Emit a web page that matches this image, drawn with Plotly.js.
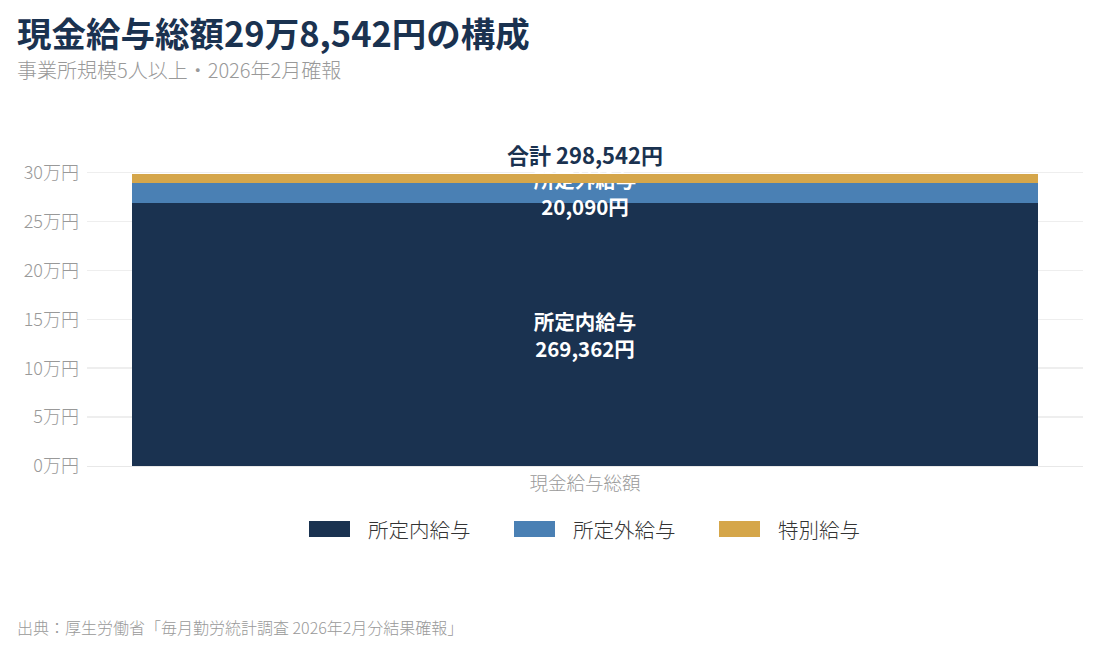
<!DOCTYPE html>
<html>
<head>
<meta charset="utf-8">
<script src="https://cdn.plot.ly/plotly-3.0.1.min.js"></script>
<style>
  body { margin: 0; background: #fff; }
  #graph { width: 1098px; height: 649px; }
</style>
</head>
<body>
<div id="graph"></div>
<script>
const categories = ['現金給与総額']
const seriesNames = ['所定内給与', '所定外給与', '特別給与']
const scheduled = [269362]
const overtime = [20090]
const special = [9090]
const tickVals = [0, 50000, 100000, 150000, 200000, 250000, 300000]
const tickText = ['0万円', '5万円', '10万円', '15万円', '20万円', '25万円', '30万円']

const font = 'Noto Sans CJK JP, Noto Sans, sans-serif'
const colors = ['#1a3250', '#4a80b4', '#d5a64a']
const navy = '#1a3250'
const grey = '#999999'

// plot area in pixels: x 87..1083, y 158..466
const plotL = 87, plotW = 996, plotB = 466, plotH = 308
const px = x => (x - plotL) / plotW
const py = y => (plotB - y) / plotH

function yen(v) {
    return v.toLocaleString('en-US') + '円'
}

const series = [scheduled, overtime, special]
const total = scheduled[0] + overtime[0] + special[0]

// bar text is drawn with each trace, so the gold segment covers the top of the blue label
let data = series.map((values, i) => ({
    type: 'bar',
    name: seriesNames[i],
    x: categories,
    y: values,
    width: 0.91,
    marker: { color: colors[i] },
    text: values.map(v => i === 2 ? '' : seriesNames[i] + '<br>' + yen(v)),
    textposition: 'inside',
    insidetextanchor: 'middle',
    constraintext: 'none',
    textangle: 0,
    textfont: { family: font, size: 20.5, color: '#ffffff', weight: 600 },
    hoverinfo: 'none',
    showlegend: false
}))

let annotations = []

annotations.push({
    xref: 'x', yref: 'y', x: categories[0], y: total,
    yanchor: 'bottom', yshift: 2, showarrow: false,
    text: '合計 ' + yen(total),
    font: { family: font, size: 22, color: navy, weight: 700 }
})

// title, subtitle, source
annotations.push({
    xref: 'paper', yref: 'paper', x: px(15), y: py(32),
    xanchor: 'left', yanchor: 'middle', showarrow: false,
    text: '現金給与総額29万8,542円の構成',
    font: { family: font, size: 34.5, color: navy, weight: 700 }
})
annotations.push({
    xref: 'paper', yref: 'paper', x: px(15), y: py(69),
    xanchor: 'left', yanchor: 'middle', showarrow: false,
    text: '事業所規模5人以上・2026年2月確報',
    font: { family: font, size: 20, color: grey, weight: 300 }
})
annotations.push({
    xref: 'paper', yref: 'paper', x: px(15), y: py(627),
    xanchor: 'left', yanchor: 'middle', showarrow: false,
    text: '出典：厚生労働省「毎月勤労統計調査 2026年2月分結果確報」',
    font: { family: font, size: 16, color: grey, weight: 300 }
})

// legend with wide swatches
let shapes = []
const legendX = [309, 514, 719]
seriesNames.forEach((name, i) => {
    shapes.push({
        type: 'rect', xref: 'paper', yref: 'paper',
        x0: px(legendX[i]), x1: px(legendX[i] + 41),
        y0: py(537), y1: py(521),
        fillcolor: colors[i], line: { width: 0 }
    })
    annotations.push({
        xref: 'paper', yref: 'paper', x: px(legendX[i] + 57), y: py(529),
        xanchor: 'left', yanchor: 'middle', showarrow: false,
        text: name,
        font: { family: font, size: 20.5, color: '#333333', weight: 300 }
    })
})

let layout = {
    width: 1098,
    height: 649,
    barmode: 'stack',
    paper_bgcolor: '#ffffff',
    plot_bgcolor: '#ffffff',
    margin: { l: plotL, r: 1098 - plotL - plotW, t: plotB - plotH, b: 649 - plotB },
    font: { family: font, color: grey },
    showlegend: false,
    xaxis: {
        type: 'category',
        range: [-0.5, 0.5],
        showgrid: false,
        showline: false,
        zeroline: false,
        ticklabelstandoff: 4,
        tickfont: { family: font, size: 18.5, color: grey, weight: 300 }
    },
    yaxis: {
        range: [0, 315000],
        tickvals: tickVals,
        ticktext: tickText,
        showgrid: true,
        gridcolor: '#eeeeee',
        gridwidth: 1.5,
        zeroline: true,
        zerolinecolor: '#e8e8e8',
        showline: false,
        ticklabelstandoff: 7,
        tickfont: { family: font, size: 18, color: grey, weight: 300 }
    },
    shapes: shapes,
    annotations: annotations
}

Plotly.newPlot('graph', data, layout, { displayModeBar: false, staticPlot: true })
</script>
</body>
</html>
